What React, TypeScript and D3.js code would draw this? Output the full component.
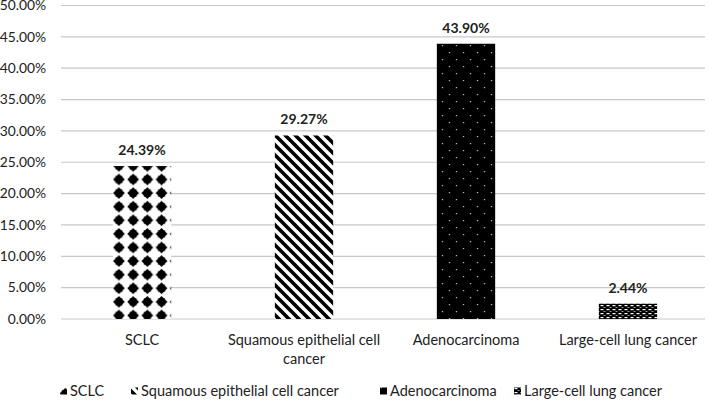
import { useEffect, useRef } from "react"
import * as d3 from "d3"

const categories = ["SCLC", "Squamous epithelial cell cancer", "Adenocarcinoma", "Large-cell lung cancer"]
const axisLabels = [["SCLC"], ["Squamous epithelial cell", "cancer"], ["Adenocarcinoma"], ["Large-cell lung cancer"]]
const values = [24.39, 29.27, 43.9, 2.44]
const yTicks = [0, 5, 10, 15, 20, 25, 30, 35, 40, 45, 50]
const patternIds = ["pat-diamond", "pat-stripe", "pat-dots", "pat-checks"]

const FONT = "Lato, 'Open Sans', sans-serif"
const FS = 14.5

export default function App() {
  const svgRef = useRef(null)

  useEffect(() => {
    const width = 709
    const height = 401
    const svg = d3.select(svgRef.current).attr("width", width).attr("height", height)
    svg.selectAll("*").remove()

    const x = d3.scaleBand().domain(categories).range([61, 709]).paddingInner(0.64).paddingOuter(0.32)
    const y = d3.scaleLinear().domain([0, 50]).range([319, 5.5])

    const defs = svg.append("defs")

    // solid diamond
    const pd = defs
      .append("pattern")
      .attr("id", patternIds[0])
      .attr("patternUnits", "userSpaceOnUse")
      .attr("width", 14.2)
      .attr("height", 13.6)
      .attr("x", x(categories[0])! - 1)
      .attr("y", y(values[0]) - 7)
    pd.append("rect").attr("width", 14.2).attr("height", 13.6).attr("fill", "#fff")
    pd.append("path").attr("d", "M7.1,0.9 L13,6.8 L7.1,12.7 L1.2,6.8 Z").attr("fill", "#000")
    pd.append("rect").attr("x", 3.6).attr("y", 3.3).attr("width", 7).attr("height", 7).attr("fill", "#000")

    // wide downward diagonal
    const ps = defs
      .append("pattern")
      .attr("id", patternIds[1])
      .attr("patternUnits", "userSpaceOnUse")
      .attr("width", 10)
      .attr("height", 10)
    ps.append("rect").attr("width", 10).attr("height", 10).attr("fill", "#fff")
    ps.append("path")
      .attr("d", "M-5,-5 L15,15 M-5,5 L5,15 M5,-5 L15,5")
      .attr("stroke", "#000")
      .attr("stroke-width", 3.6)

    // black with white dots
    const pdots = defs
      .append("pattern")
      .attr("id", patternIds[2])
      .attr("patternUnits", "userSpaceOnUse")
      .attr("width", 14)
      .attr("height", 14)
      .attr("x", x(categories[2])!)
    pdots.append("rect").attr("width", 14).attr("height", 14).attr("fill", "#000")
    pdots.append("rect").attr("x", 5).attr("y", 3).attr("width", 1.2).attr("height", 1.2).attr("fill", "#ccc")
    pdots.append("rect").attr("x", 12).attr("y", 10).attr("width", 1.2).attr("height", 1.2).attr("fill", "#ccc")

    // small checks
    const pc = defs
      .append("pattern")
      .attr("id", patternIds[3])
      .attr("patternUnits", "userSpaceOnUse")
      .attr("width", 6)
      .attr("height", 4)
    pc.append("rect").attr("width", 6).attr("height", 4).attr("fill", "#000")
    pc.append("rect").attr("x", 0.5).attr("y", 1).attr("width", 3).attr("height", 1.2).attr("fill", "#fff")
    pc.append("rect").attr("x", 3.5).attr("y", 3).attr("width", 2).attr("height", 0.8).attr("fill", "#bbb")

    // gridlines
    svg
      .append("g")
      .selectAll("line")
      .data(yTicks)
      .join("line")
      .attr("x1", 61)
      .attr("x2", 705)
      .attr("y1", (d) => y(d))
      .attr("y2", (d) => y(d))
      .attr("stroke", "#c8c8c8")
      .attr("stroke-width", 1.2)

    // y tick labels
    svg
      .append("g")
      .selectAll("text")
      .data(yTicks)
      .join("text")
      .attr("x", 46)
      .attr("y", (d) => y(d))
      .attr("dy", "0.35em")
      .attr("text-anchor", "end")
      .attr("font-family", FONT)
      .attr("font-size", 13.8)
      .attr("fill", "#222")
      .text((d) => `${d.toFixed(2)}%`)

    // bars
    svg
      .append("g")
      .selectAll("rect")
      .data(values)
      .join("rect")
      .attr("x", (_, i) => x(categories[i])!)
      .attr("y", (d) => y(d))
      .attr("width", x.bandwidth())
      .attr("height", (d) => y(0) - y(d))
      .attr("fill", (_, i) => `url(#${patternIds[i]})`)

    // value labels
    svg
      .append("g")
      .selectAll("text")
      .data(values)
      .join("text")
      .attr("x", (_, i) => x(categories[i])! + x.bandwidth() / 2)
      .attr("y", (d) => y(d) - 11)
      .attr("text-anchor", "middle")
      .attr("font-family", FONT)
      .attr("font-size", 14)
      .attr("font-weight", "bold")
      .attr("fill", "#222")
      .text((d) => `${d.toFixed(2)}%`)

    // category labels
    const cat = svg
      .append("g")
      .selectAll("text")
      .data(axisLabels)
      .join("text")
      .attr("x", (_, i) => x(categories[i])! + x.bandwidth() / 2)
      .attr("y", 345)
      .attr("text-anchor", "middle")
      .attr("font-family", FONT)
      .attr("font-size", FS)
      .attr("fill", "#222")
    cat
      .selectAll("tspan")
      .data((d) => d)
      .join("tspan")
      .attr("x", function () {
        return (this.parentNode as SVGTextElement).getAttribute("x")
      })
      .attr("dy", (_, j) => (j === 0 ? 0 : 18.5))
      .text((d) => d)

    // legend
    const legendX = [60, 131, 380, 514]
    const legend = svg
      .append("g")
      .selectAll("g")
      .data(categories)
      .join("g")
      .attr("transform", (_, i) => `translate(${legendX[i]},391)`)
    legend
      .append("rect")
      .attr("x", 0)
      .attr("y", -3.5)
      .attr("width", 7)
      .attr("height", 7)
      .attr("fill", (_, i) => `url(#${patternIds[i]})`)
    legend
      .append("text")
      .attr("x", 10)
      .attr("y", 0)
      .attr("dy", "0.35em")
      .attr("font-family", FONT)
      .attr("font-size", FS)
      .attr("fill", "#222")
      .text((d) => d)
  }, [])

  return <svg ref={svgRef} style={{ position: "absolute", left: 0, top: 0 }}></svg>
}
